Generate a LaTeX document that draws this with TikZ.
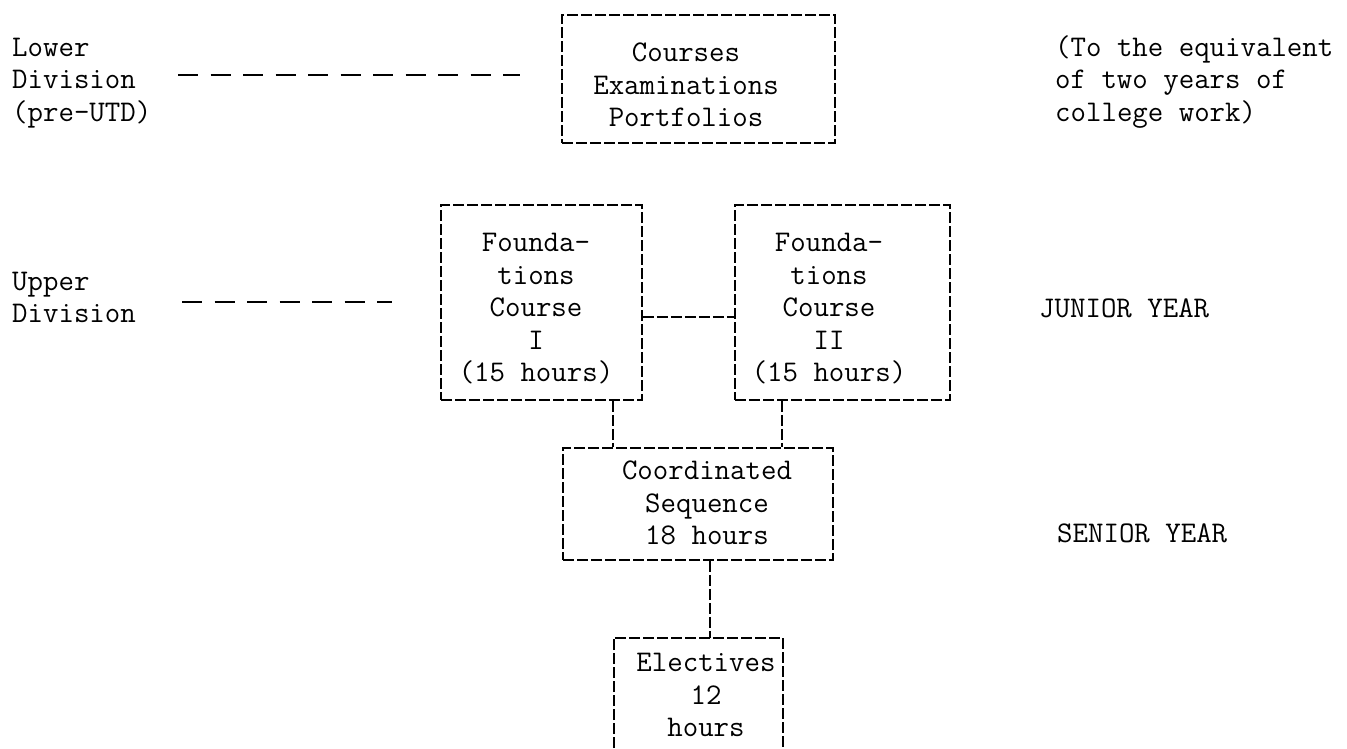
\documentclass[tikz,border=0pt]{standalone}
\usetikzlibrary{calc}
\begin{document}
\begin{tikzpicture}[x=1pt,y=-1pt,
  tw/.style={font=\ttfamily\fontsize{30}{32.5}\selectfont, inner sep=0pt},
  boxline/.style={line width=1.6pt, dash pattern=on 11pt off 3pt},
  boxnode/.style={draw, boxline, rectangle, inner sep=0pt},
  leader/.style={line width=1.8pt, dash pattern=on 20pt off 12.5pt}
]
\useasboundingbox (0,0) rectangle (1347,748);

% boxes
\node[boxnode, minimum width=273pt, minimum height=128pt] (A) at (698.5,79) {};
\node[tw, align=center] (Atext) at (686,85) {Courses\\Examinations\\Portfolios};

\node[boxnode, minimum width=201pt, minimum height=195pt] (B1) at (541.5,302.5) {};
\node[tw, align=center] (B1text) at (536,309) {Founda-\\tions\\Course\\I\\(15 hours)};

\node[boxnode, minimum width=215pt, minimum height=195pt] (B2) at (842.5,302.5) {};
\node[tw, align=center] (B2text) at (829,309) {Founda-\\tions\\Course\\II\\(15 hours)};

\node[boxnode, minimum width=270pt, minimum height=112pt] (C) at (698,504) {};
\node[tw, align=center] (Ctext) at (707,503) {Coordinated\\Sequence\\18 hours};

\node[rectangle, inner sep=0pt, minimum width=169pt, minimum height=110pt] (D) at (698.5,693) {};
\draw[boxline] (D.south west) -- (D.north west) -- (D.north east) -- (D.south east);
\node[tw, align=center] (Dtext) at (706,695) {Electives\\12\\hours};

% side labels
\node[tw, align=left, anchor=west] (lower) at (12,83) {Lower\\Division\\(pre-UTD)};
\node[tw, align=left, anchor=west] (upper) at (12,297.5) {Upper\\Division};
\node[tw, align=left, anchor=west] (equiv) at (1055,82) {(To the equivalent\\of two years of\\college work)};
\node[tw, anchor=west] (junior) at (1039,308) {JUNIOR YEAR};
\node[tw, anchor=west] (senior) at (1057,533) {SENIOR YEAR};

% leader lines
\coordinate (lowA) at (178,75);
\coordinate (lowB) at (520,75);
\draw[leader] (lowA) -- (lowB);
\coordinate (upA) at (182,302);
\coordinate (upB) at (392,302);
\draw[leader] (upA) -- (upB);

% connectors
\draw[boxline] (B1.east |- 0,317) -- (B2.west |- 0,317);
\draw[boxline] (B1.south -| 613,0) -- (C.north -| 613,0);
\draw[boxline] (B2.south -| 782,0) -- (C.north -| 782,0);
\draw[boxline] (C.south -| 710,0) -- (D.north -| 710,0);
\end{tikzpicture}
\end{document}
